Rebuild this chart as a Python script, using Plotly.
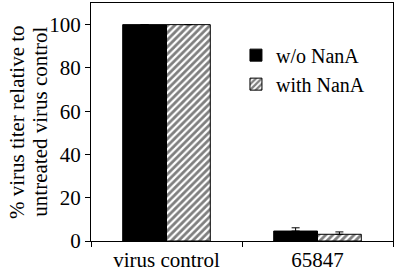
import plotly.graph_objects as go

categories = ["virus control", "65847"]
without_nana = [100, 4.6]
without_err = [0, 1.5]
with_nana = [100, 3.1]
with_err = [0, 1.1]
series_names = ["w/o NanA", "with NanA"]
y_ticks = [0, 20, 40, 60, 80, 100]
y_title_lines = ["% virus titer relative to", "untreated virus control"]

font = dict(family="'Liberation Serif', 'Times New Roman', serif", color="black")

fig = go.Figure()
fig.add_trace(go.Bar(
    x=categories, y=without_nana, name=series_names[0],
    marker=dict(color="black", line=dict(color="black", width=1)),
    error_y=dict(type="data", symmetric=False, array=without_err,
                 arrayminus=[0, 0], color="black", thickness=1, width=4),
))
fig.add_trace(go.Bar(
    x=categories, y=with_nana, name=series_names[1],
    marker=dict(color="white", line=dict(color="black", width=1),
                pattern=dict(shape="/", fgcolor="black", bgcolor="white",
                             size=5, solidity=0.55)),
    error_y=dict(type="data", symmetric=False, array=with_err,
                 arrayminus=[0, 0], color="black", thickness=1, width=4),
))

for xpos, line in zip([-0.245, -0.17], y_title_lines):
    fig.add_annotation(text=line, xref="paper", yref="paper", x=xpos, y=0.5,
                       xanchor="center", yanchor="middle", textangle=-90,
                       showarrow=False, font=dict(size=21, **font))

fig.update_layout(
    width=397, height=273,
    margin=dict(l=91, r=4, t=3, b=32),
    paper_bgcolor="white", plot_bgcolor="white",
    barmode="group", bargap=0.42, bargroupgap=0,
    font=dict(size=21, **font),
    showlegend=True,
    legend=dict(x=0.48, y=0.72, xanchor="left", yanchor="middle",
                bgcolor="rgba(0,0,0,0)", font=dict(size=20, **font),
                itemwidth=30),
    xaxis=dict(showline=True, linecolor="black", linewidth=1, mirror=True,
               ticks="outside", tickson="boundaries", ticklen=5,
               tickcolor="black", tickfont=dict(size=21, **font),
               ticklabelstandoff=0, automargin=False),
    yaxis=dict(range=[0, 110], tickvals=y_ticks, showline=True,
               linecolor="black", linewidth=1, mirror=True,
               ticks="outside", ticklen=5, tickcolor="black",
               showgrid=False, zeroline=False, automargin=False,
               tickfont=dict(size=21, **font)),
)

fig.write_html("out.html", config={"displayModeBar": False},
               post_script="document.body.style.margin='0';document.body.style.overflow='hidden';")
